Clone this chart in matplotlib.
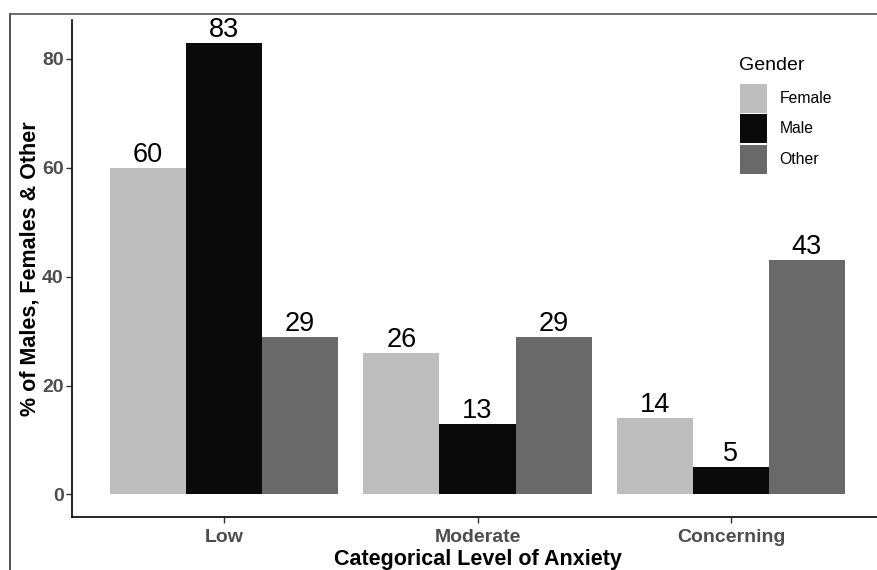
import numpy as np
import matplotlib
matplotlib.use("Agg")
import matplotlib.pyplot as plt
from matplotlib.lines import Line2D

plt.rcParams['font.family'] = ['Liberation Sans', 'DejaVu Sans']

levels = ["Low", "Moderate", "Concerning"]
genders = ["Female", "Male", "Other"]
female = [60, 26, 14]
male = [83, 13, 5]
other = [29, 29, 43]
colors = ["#BEBEBE", "#0A0A0A", "#696969"]

fig = plt.figure(figsize=(8.77, 5.70), dpi=100)
ax = fig.add_axes([72/877, 1 - 517/570, (883 - 72)/877, (517 - 20)/570])

x = np.arange(len(levels))
w = 0.3
series = [female, male, other]
for i, (g, vals, c) in enumerate(zip(genders, series, colors)):
    pos = x + (i - 1) * w
    ax.bar(pos, vals, width=w, color=c, label=g, linewidth=0)
    for px, v in zip(pos, vals):
        ax.annotate(str(v), (px, v), xytext=(0, 0), textcoords="offset points",
                    ha="center", va="bottom", fontsize=19.5, color="black")

ax.set_xlim(-0.6, 2.6)
ax.set_ylim(-83 * 0.05, 83 * 1.05)
ax.set_xticks(x)
ax.set_xticklabels(levels)
ax.set_yticks([0, 20, 40, 60, 80])
for lab in ax.get_xticklabels() + ax.get_yticklabels():
    lab.set_fontweight("bold")
    lab.set_color("#4D4D4D")
    lab.set_fontsize(14)
ax.tick_params(axis="y", length=4, width=1, color="#333333", pad=2)
ax.tick_params(axis="x", length=4, width=1, color="#333333", pad=5)

ax.spines["top"].set_visible(False)
ax.spines["right"].set_visible(False)
ax.spines["left"].set_linewidth(1.2)
ax.spines["bottom"].set_linewidth(1.2)

ax.set_xlabel("Categorical Level of Anxiety", fontsize=15.5, fontweight="bold", labelpad=1.5)
ax.set_ylabel("% of Males, Females & Other", fontsize=15.5, fontweight="bold", labelpad=1)

leg = ax.legend(loc="upper left", bbox_to_anchor=(727/877, 1 - 71/570),
                bbox_transform=fig.transFigure, frameon=False, fontsize=11.3,
                handlelength=1.78, handleheight=2.47,
                labelspacing=0.1, handletextpad=0.75, borderpad=0.3)
fig.text(739/877, 1 - 66/570, "Gender", fontsize=14, ha="left", va="center")

# outer frame (left and top edges visible)
fig.add_artist(Line2D([10/877, 10/877], [0, 1 - 14/570], transform=fig.transFigure,
                      color="#333333", linewidth=1.2))
fig.add_artist(Line2D([10/877, 1], [1 - 14/570, 1 - 14/570], transform=fig.transFigure,
                      color="#555555", linewidth=1.2))

fig.savefig("out.png", dpi=100)
